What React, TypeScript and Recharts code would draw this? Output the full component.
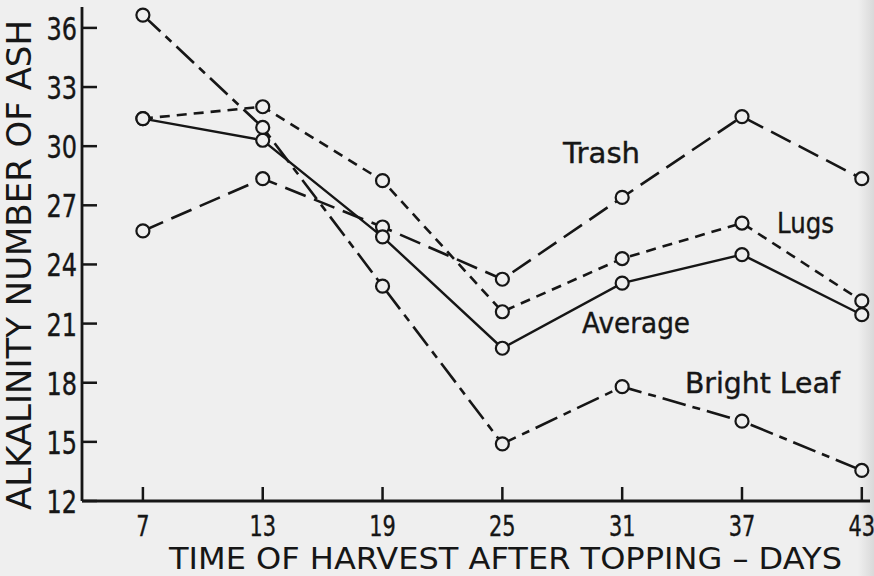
import React from 'react';
import { LineChart, Line, XAxis, YAxis, ReferenceDot } from 'recharts';

const days = [7, 13, 19, 25, 31, 37, 43];
const trash = [25.7, 28.35, 25.9, 23.25, 27.4, 31.5, 28.35];
const lugs = [31.4, 32.0, 28.25, 21.6, 24.3, 26.1, 22.15];
const average = [31.4, 30.3, 25.4, 19.75, 23.05, 24.5, 21.45];
const brightLeaf = [36.65, 30.95, 22.9, 14.9, 17.8, 16.05, 13.55];

const xTicks = [7, 13, 19, 25, 31, 37, 43];
const yTicks = [12, 15, 18, 21, 24, 27, 30, 33, 36];

const xTitle = 'TIME OF HARVEST AFTER TOPPING – DAYS';
const yTitle = 'ALKALINITY NUMBER OF ASH';

const annotations = [
  { text: 'Trash', x: 28.04, y: 29.15, w: 77 },
  { text: 'Lugs', x: 38.75, y: 25.6, w: 57 },
  { text: 'Average', x: 28.99, y: 20.52, w: 108 },
  { text: 'Bright Leaf', x: 34.14, y: 17.48, w: 155 },
];

const rows = days.map((d, i) => ({
  day: d,
  trash: trash[i],
  lugs: lugs[i],
  average: average[i],
  bright: brightLeaf[i],
}));

const INK = '#161616';
const BG = '#efefef';
const FONT = "'DejaVu Sans', 'Liberation Sans', sans-serif";

const XTick = (props: any) => {
  const { x, y, payload } = props;
  return (
    <g>
      <line x1={x} y1={y - 14} x2={x} y2={y} stroke={INK} strokeWidth={2.5} />
      <text
        transform={`translate(${x},${y + 35}) scale(0.72,1)`}
        textAnchor="middle"
        fontSize={29}
        fontFamily={FONT}
        fill={INK}
        stroke={INK}
        strokeWidth={0.4}
      >
        {payload.value}
      </text>
    </g>
  );
};

const YTick = (props: any) => {
  const { x, y, payload } = props;
  return (
    <g>
      <line x1={x} y1={y} x2={x + 15} y2={y} stroke={INK} strokeWidth={2.5} />
      <text
        transform={`translate(${x - 5},${y + 12}) scale(0.75,1)`}
        textAnchor="end"
        fontSize={32}
        fontFamily={FONT}
        fill={INK}
        stroke={INK}
        strokeWidth={0.4}
      >
        {payload.value}
      </text>
    </g>
  );
};

const XTitle = (props: any) => {
  const vb = props.viewBox;
  const cx = vb.x + vb.width / 2 + 29.5;
  const by = vb.y + 68;
  return (
    <text
      x={cx}
      y={by}
      textAnchor="middle"
      fontSize={31}
      fontFamily={FONT}
      fill={INK}
      textLength={673}
      lengthAdjust="spacingAndGlyphs"
    >
      {xTitle}
    </text>
  );
};

const YTitle = (props: any) => {
  const vb = props.viewBox;
  const cy = vb.y + vb.height / 2 + 11;
  const bx = 31;
  return (
    <text
      x={bx}
      y={cy}
      transform={`rotate(-90, ${bx}, ${cy})`}
      textAnchor="middle"
      fontSize={33}
      fontFamily={FONT}
      fill={INK}
      textLength={490}
      lengthAdjust="spacingAndGlyphs"
    >
      {yTitle}
    </text>
  );
};

const makeAnnot = (text: string, w: number) => (props: any) => {
  const vb = props.viewBox || {};
  return (
    <text
      x={vb.x}
      y={vb.y}
      fontSize={29}
      fontFamily={FONT}
      fill={INK}
      stroke={INK}
      strokeWidth={0.4}
      textLength={w}
      lengthAdjust="spacingAndGlyphs"
    >
      {text}
    </text>
  );
};

const dotStyle = { r: 6.5, stroke: INK, strokeWidth: 2.2, fill: BG, strokeDasharray: '0' };

export default function App() {
  return (
    <div
      style={{
        position: 'absolute',
        left: 0,
        top: 0,
        width: 874,
        height: 576,
        background: `linear-gradient(to right, ${BG} 0px, ${BG} 858px, #d9d9d9 874px)`,
      }}
    >
      <LineChart
        width={874}
        height={576}
        data={rows}
        margin={{ top: 7, right: 4, bottom: 0, left: 0 }}
      >
        <XAxis
          dataKey="day"
          type="number"
          domain={[3.95, 43.41]}
          ticks={xTicks}
          allowDataOverflow
          height={75}
          tickSize={0}
          tickMargin={0}
          tickLine={false}
          tick={<XTick />}
          axisLine={{ stroke: INK, strokeWidth: 2.8 }}
          label={XTitle}
        />
        <YAxis
          type="number"
          domain={[12, 37.06]}
          ticks={yTicks}
          allowDataOverflow
          width={82}
          tickSize={0}
          tickMargin={0}
          tickLine={false}
          tick={<YTick />}
          axisLine={{ stroke: INK, strokeWidth: 2.8 }}
          label={YTitle}
        />
        <Line
          dataKey="trash"
          stroke={INK}
          strokeWidth={2.6}
          strokeDasharray="22 9"
          dot={dotStyle}
          isAnimationActive={false}
        />
        <Line
          dataKey="lugs"
          stroke={INK}
          strokeWidth={2.6}
          strokeDasharray="10 7"
          dot={dotStyle}
          isAnimationActive={false}
        />
        <Line
          dataKey="average"
          stroke={INK}
          strokeWidth={2.4}
          dot={dotStyle}
          isAnimationActive={false}
        />
        <Line
          dataKey="bright"
          stroke={INK}
          strokeWidth={2.6}
          strokeDasharray="24 7 8 7"
          dot={dotStyle}
          isAnimationActive={false}
        />
        {annotations.map((a) => (
          <ReferenceDot
            key={a.text}
            x={a.x}
            y={a.y}
            r={0}
            fill="none"
            stroke="none"
            ifOverflow="visible"
            label={makeAnnot(a.text, a.w)}
          />
        ))}
      </LineChart>
    </div>
  );
}
